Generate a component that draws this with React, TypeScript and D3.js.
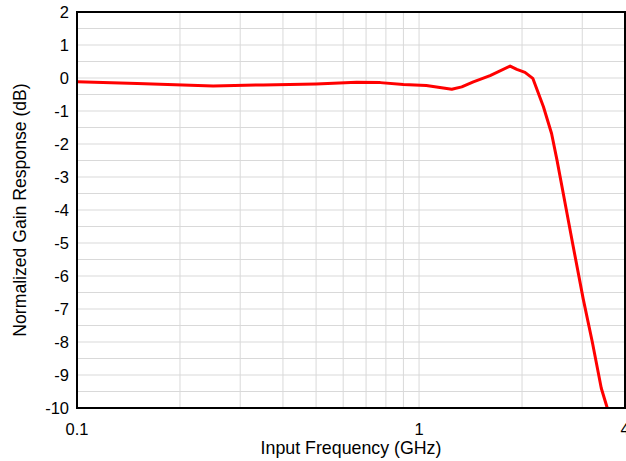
import React from 'react';
import * as d3 from 'd3';

// input frequency (GHz) and normalized gain (dB)
const freqs = [0.1, 0.15, 0.25, 0.35, 0.5, 0.657, 0.77, 0.9, 1.05, 1.246, 1.333, 1.441, 1.613, 1.846, 1.931, 2.04, 2.15, 2.31, 2.44, 2.53, 2.64, 2.81, 3.02, 3.21, 3.41, 3.55];
const gains = [-0.11, -0.17, -0.24, -0.21, -0.18, -0.13, -0.14, -0.2, -0.23, -0.34, -0.27, -0.12, 0.07, 0.36, 0.26, 0.17, -0.01, -0.87, -1.68, -2.48, -3.5, -5.0, -6.7, -8.0, -9.4, -10];

const yTicks = [2, 1, 0, -1, -2, -3, -4, -5, -6, -7, -8, -9, -10];
const xTicks = [0.1, 1, 4];
const xGrid = [0.2, 0.3, 0.4, 0.5, 0.6, 0.7, 0.8, 0.9, 1, 2, 3];

export default function App() {
  const W = 626, H = 461;
  const left = 77, right = 625, top = 12, bottom = 408;
  const x = d3.scaleLog().domain([0.1, 4]).range([left, right]);
  const y = d3.scaleLinear().domain([-10, 2]).range([bottom, top]);
  const yGrid = d3.range(-10, 2.01, 0.5);
  const line = d3.line<number>().x((d, i) => x(freqs[i])).y((d) => y(d));
  const font = '"Liberation Sans", Arial, sans-serif';

  return (
    <svg width={W} height={H} style={{ position: 'absolute', left: 0, top: 0, background: '#fff' }} fontFamily={font}>
      {yGrid.map((v) => (
        <line key={'y' + v} x1={left} x2={right} y1={y(v)} y2={y(v)} stroke="#d9d9d9" strokeWidth={1} />
      ))}
      {xGrid.map((v) => (
        <line key={'x' + v} x1={x(v)} x2={x(v)} y1={top} y2={bottom} stroke="#d9d9d9" strokeWidth={1} />
      ))}
      <path d={line(gains) || ''} fill="none" stroke="#ff0000" strokeWidth={3} strokeLinejoin="round" />
      <rect x={left} y={top} width={right - left} height={bottom - top} fill="none" stroke="#000" strokeWidth={2} />
      {yTicks.map((v) => (
        <text key={'yt' + v} x={left - 8} y={y(v)} dy="0.35em" textAnchor="end" fontSize={16.5} fill="#000">{v}</text>
      ))}
      {xTicks.map((v) => (
        <text key={'xt' + v} x={x(v)} y={bottom + 27} textAnchor="middle" fontSize={16.5} fill="#000">{v}</text>
      ))}
      <text x={(left + right) / 2} y={454} textAnchor="middle" fontSize={17.8} fill="#000">Input Frequency (GHz)</text>
      <text transform={`translate(26,${(top + bottom) / 2}) rotate(-90)`} textAnchor="middle" fontSize={17.6} fill="#000">Normalized Gain Response (dB)</text>
    </svg>
  );
}
